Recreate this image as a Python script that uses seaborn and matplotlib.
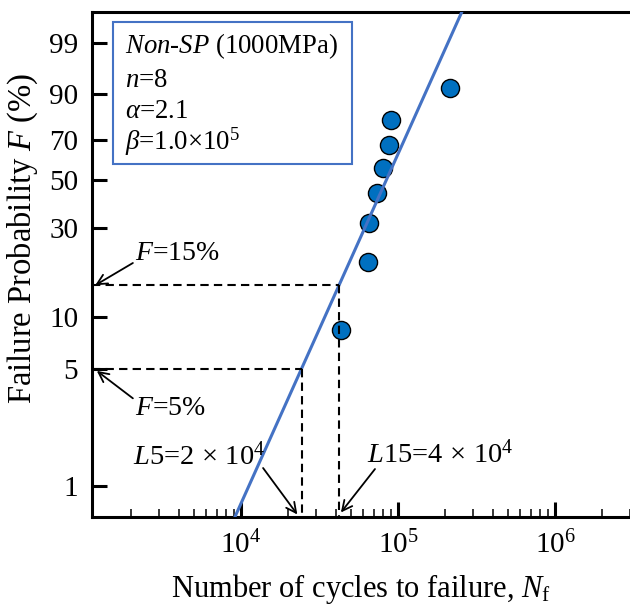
import numpy as np
import matplotlib
matplotlib.use('Agg')
import matplotlib.pyplot as plt
import seaborn as sns
from matplotlib.ticker import LogLocator, FixedLocator, FixedFormatter, NullLocator, NullFormatter, LogFormatterMathtext
from matplotlib.patches import Rectangle

# ---------------- data ----------------
cycles = [43100, 64200, 65200, 73300, 80200, 87500, 90100, 215000]
fail_prob = [8.33, 20.2, 32.1, 44.0, 56.0, 67.9, 79.8, 91.7]   # median ranks, %
y_ticks = [1, 5, 10, 30, 50, 70, 90, 99]
y_tick_labels = ['1', '5', '10', '30', '50', '70', '90', '99']
x_ticks = [1e4, 1e5, 1e6]
fit_alpha = 2.1
fit_beta = 1.0e5
fit_F = [0.3, 99.99]
L5_N, L5_F = 24300, 5
L15_N, L15_F = 42000, 15
x_lim = (1125, 3.0e6)
y_lim = (0.661, 99.923)

# ---------------- style ----------------
sns.set_theme(style='ticks')
plt.rcParams['font.family'] = ['Liberation Serif', 'DejaVu Serif']
plt.rcParams['mathtext.fontset'] = 'custom'
plt.rcParams['mathtext.rm'] = 'Liberation Serif'
plt.rcParams['mathtext.it'] = 'Liberation Serif:italic'
plt.rcParams['mathtext.bf'] = 'Liberation Serif:bold'
plt.rcParams['axes.unicode_minus'] = False
plt.rcParams['text.color'] = 'black'
plt.rcParams['axes.labelcolor'] = 'black'
plt.rcParams['xtick.color'] = 'black'
plt.rcParams['ytick.color'] = 'black'


def fwd(F):
    F = np.clip(np.asarray(F, dtype=float), 1e-6, 100 - 1e-9)
    return np.log(-np.log(1 - F / 100.0))


def inv(y):
    return 100.0 * (1 - np.exp(-np.exp(np.asarray(y, dtype=float))))


fig = plt.figure(figsize=(6.3, 6.06), dpi=100)
ax = fig.add_axes([92 / 630, (606 - 516.5) / 606, 538 / 630, 505 / 606])
ax.set_xscale('log')
ax.set_yscale('function', functions=(fwd, inv))

blue_line = '#4472C4'
pt_fill = '#0070C0'

# fitted Weibull line
fit_N = fit_beta * (-np.log(1 - np.array(fit_F) / 100.0)) ** (1 / fit_alpha)
sns.lineplot(x=fit_N, y=fit_F, ax=ax, color=blue_line, lw=2.2, zorder=3, sort=False)

# data points
sns.scatterplot(x=cycles, y=fail_prob, ax=ax, s=170, color=pt_fill,
                edgecolor='black', linewidth=1.0, zorder=2)

# dashed guides
dash = (0, (4, 2.5))
for N, F in [(L5_N, L5_F), (L15_N, L15_F)]:
    ax.plot([x_lim[0], N], [F, F], color='black', lw=1.5, ls=dash, zorder=3)
    ax.plot([N, N], [F, y_lim[0]], color='black', lw=1.5, ls=dash, zorder=3)

ax.set_xlim(*x_lim)
ax.set_ylim(*y_lim)

# ticks
ax.xaxis.set_major_locator(FixedLocator(x_ticks))
ax.xaxis.set_major_formatter(LogFormatterMathtext())
ax.xaxis.set_minor_locator(LogLocator(base=10, subs=np.arange(2, 10), numticks=20))
ax.xaxis.set_minor_formatter(NullFormatter())
ax.yaxis.set_major_locator(FixedLocator(y_ticks))
ax.yaxis.set_major_formatter(FixedFormatter(y_tick_labels))
ax.yaxis.set_minor_locator(NullLocator())

ax.tick_params(axis='both', which='major', direction='in', length=10.8, width=2.2,
               labelsize=21, color='black', labelcolor='black')
ax.tick_params(axis='x', which='major', pad=10)
ax.tick_params(axis='y', which='major', pad=10)
ax.tick_params(axis='x', which='minor', direction='in', length=6, width=1.1, color='black')
ax.tick_params(top=False, right=False, which='both')

for s in ['left', 'bottom', 'top']:
    ax.spines[s].set_linewidth(2.2)
    ax.spines[s].set_color('black')
ax.spines['right'].set_visible(False)

ax.set_xlabel(r'Number of cycles to failure, $N_\mathrm{f}$', fontsize=22, color='black')
ax.set_ylabel(r'Failure Probability $F$ (%)', fontsize=23.5, color='black')
ax.xaxis.set_label_coords(0.5, -0.11)
ax.yaxis.set_label_coords(-0.096, 0.551)

# info box
ax.add_patch(Rectangle((0.039, 0.698), 0.444, 0.281, transform=ax.transAxes,
                       fill=False, edgecolor=blue_line, lw=1.5, zorder=4))
box_lines = [r'$Non$-$SP$ (1000MPa)', r'$n$=8', r'$\alpha$=2.1', r'$\beta$=1.0×$10^5$']
box_y = [0.918, 0.850, 0.789, 0.726]
for txt, yy in zip(box_lines, box_y):
    ax.text(0.061, yy, txt, transform=ax.transAxes, fontsize=19.3, va='baseline',
            ha='left', color='black', zorder=5)

# annotations
arrow = dict(arrowstyle='->', lw=1.3, color='black', mutation_scale=18,
             shrinkA=0, shrinkB=0)
ax.text(0.080, 0.508, r'$F$=15%', transform=ax.transAxes, fontsize=20, va='baseline')
ax.annotate('', xy=(0.006, L15_F), xycoords=('axes fraction', 'data'),
            xytext=(0.076, 0.502), textcoords='axes fraction', arrowprops=arrow)

ax.text(0.080, 0.201, r'$F$=5%', transform=ax.transAxes, fontsize=20, va='baseline')
ax.annotate('', xy=(0.009, L5_F * 0.97), xycoords=('axes fraction', 'data'),
            xytext=(0.076, 0.234), textcoords='axes fraction', arrowprops=arrow)

ax.text(0.076, 0.102, r'$L$5=2$\,\times\,10^4$', transform=ax.transAxes, fontsize=20.5, va='baseline')
ax.annotate('', xy=(L5_N * 0.94, 0.004), xycoords=('data', 'axes fraction'),
            xytext=(0.318, 0.096), textcoords='axes fraction', arrowprops=arrow)

ax.text(0.511, 0.106, r'$L$15=4$\,\times\,10^4$', transform=ax.transAxes, fontsize=20.5, va='baseline')
ax.annotate('', xy=(L15_N * 1.03, 0.008), xycoords=('data', 'axes fraction'),
            xytext=(0.526, 0.094), textcoords='axes fraction', arrowprops=arrow)

fig.savefig('out.png', dpi=100)
